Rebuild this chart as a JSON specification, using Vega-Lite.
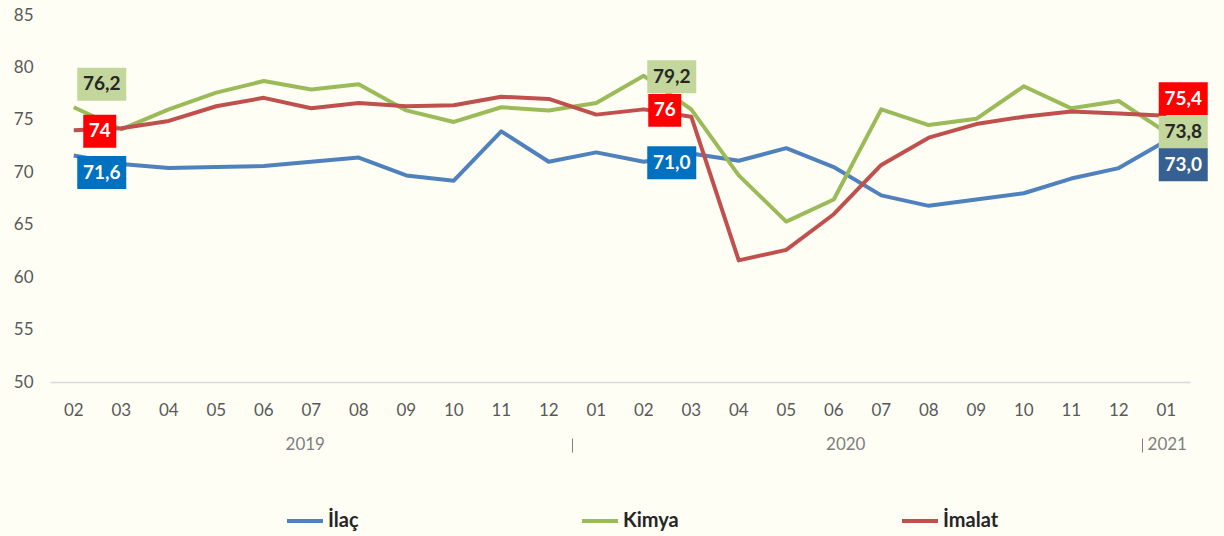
{
  "$schema": "https://vega.github.io/schema/vega-lite/v6.json",
  "autosize": "none",
  "width": 1140,
  "height": 367,
  "padding": {"left": 50, "top": 15, "right": 34, "bottom": 154},
  "background": "#FEFEF5",
  "config": {
    "font": "Lato",
    "view": {"stroke": null},
    "axis": {"grid": false, "labelFont": "Lato"},
    "legend": {"labelFont": "Lato"}
  },
  "resolve": {"axis": {"x": "independent"}},
  "datasets": {
    "seriler": [
      {"seri": "İlaç", "ay": "2019-02", "deger": 71.6},
      {"seri": "İlaç", "ay": "2019-03", "deger": 70.8},
      {"seri": "İlaç", "ay": "2019-04", "deger": 70.4},
      {"seri": "İlaç", "ay": "2019-05", "deger": 70.5},
      {"seri": "İlaç", "ay": "2019-06", "deger": 70.6},
      {"seri": "İlaç", "ay": "2019-07", "deger": 71.0},
      {"seri": "İlaç", "ay": "2019-08", "deger": 71.4},
      {"seri": "İlaç", "ay": "2019-09", "deger": 69.7},
      {"seri": "İlaç", "ay": "2019-10", "deger": 69.2},
      {"seri": "İlaç", "ay": "2019-11", "deger": 73.9},
      {"seri": "İlaç", "ay": "2019-12", "deger": 71.0},
      {"seri": "İlaç", "ay": "2020-01", "deger": 71.9},
      {"seri": "İlaç", "ay": "2020-02", "deger": 71.0},
      {"seri": "İlaç", "ay": "2020-03", "deger": 71.8},
      {"seri": "İlaç", "ay": "2020-04", "deger": 71.1},
      {"seri": "İlaç", "ay": "2020-05", "deger": 72.3},
      {"seri": "İlaç", "ay": "2020-06", "deger": 70.5},
      {"seri": "İlaç", "ay": "2020-07", "deger": 67.8},
      {"seri": "İlaç", "ay": "2020-08", "deger": 66.8},
      {"seri": "İlaç", "ay": "2020-09", "deger": 67.4},
      {"seri": "İlaç", "ay": "2020-10", "deger": 68.0},
      {"seri": "İlaç", "ay": "2020-11", "deger": 69.4},
      {"seri": "İlaç", "ay": "2020-12", "deger": 70.4},
      {"seri": "İlaç", "ay": "2021-01", "deger": 73.0},
      {"seri": "Kimya", "ay": "2019-02", "deger": 76.2},
      {"seri": "Kimya", "ay": "2019-03", "deger": 74.1},
      {"seri": "Kimya", "ay": "2019-04", "deger": 76.0},
      {"seri": "Kimya", "ay": "2019-05", "deger": 77.6},
      {"seri": "Kimya", "ay": "2019-06", "deger": 78.7},
      {"seri": "Kimya", "ay": "2019-07", "deger": 77.9},
      {"seri": "Kimya", "ay": "2019-08", "deger": 78.4},
      {"seri": "Kimya", "ay": "2019-09", "deger": 75.9},
      {"seri": "Kimya", "ay": "2019-10", "deger": 74.8},
      {"seri": "Kimya", "ay": "2019-11", "deger": 76.2},
      {"seri": "Kimya", "ay": "2019-12", "deger": 75.9},
      {"seri": "Kimya", "ay": "2020-01", "deger": 76.6},
      {"seri": "Kimya", "ay": "2020-02", "deger": 79.2},
      {"seri": "Kimya", "ay": "2020-03", "deger": 76.0},
      {"seri": "Kimya", "ay": "2020-04", "deger": 69.7},
      {"seri": "Kimya", "ay": "2020-05", "deger": 65.3},
      {"seri": "Kimya", "ay": "2020-06", "deger": 67.4},
      {"seri": "Kimya", "ay": "2020-07", "deger": 76.0},
      {"seri": "Kimya", "ay": "2020-08", "deger": 74.5},
      {"seri": "Kimya", "ay": "2020-09", "deger": 75.1},
      {"seri": "Kimya", "ay": "2020-10", "deger": 78.2},
      {"seri": "Kimya", "ay": "2020-11", "deger": 76.1},
      {"seri": "Kimya", "ay": "2020-12", "deger": 76.8},
      {"seri": "Kimya", "ay": "2021-01", "deger": 73.8},
      {"seri": "İmalat", "ay": "2019-02", "deger": 74.0},
      {"seri": "İmalat", "ay": "2019-03", "deger": 74.2},
      {"seri": "İmalat", "ay": "2019-04", "deger": 74.9},
      {"seri": "İmalat", "ay": "2019-05", "deger": 76.3},
      {"seri": "İmalat", "ay": "2019-06", "deger": 77.1},
      {"seri": "İmalat", "ay": "2019-07", "deger": 76.1},
      {"seri": "İmalat", "ay": "2019-08", "deger": 76.6},
      {"seri": "İmalat", "ay": "2019-09", "deger": 76.3},
      {"seri": "İmalat", "ay": "2019-10", "deger": 76.4},
      {"seri": "İmalat", "ay": "2019-11", "deger": 77.2},
      {"seri": "İmalat", "ay": "2019-12", "deger": 77.0},
      {"seri": "İmalat", "ay": "2020-01", "deger": 75.5},
      {"seri": "İmalat", "ay": "2020-02", "deger": 76.0},
      {"seri": "İmalat", "ay": "2020-03", "deger": 75.3},
      {"seri": "İmalat", "ay": "2020-04", "deger": 61.6},
      {"seri": "İmalat", "ay": "2020-05", "deger": 62.6},
      {"seri": "İmalat", "ay": "2020-06", "deger": 66.0},
      {"seri": "İmalat", "ay": "2020-07", "deger": 70.7},
      {"seri": "İmalat", "ay": "2020-08", "deger": 73.3},
      {"seri": "İmalat", "ay": "2020-09", "deger": 74.6},
      {"seri": "İmalat", "ay": "2020-10", "deger": 75.3},
      {"seri": "İmalat", "ay": "2020-11", "deger": 75.8},
      {"seri": "İmalat", "ay": "2020-12", "deger": 75.6},
      {"seri": "İmalat", "ay": "2021-01", "deger": 75.4}
    ],
    "etiketler": [
      {"seri": "Kimya", "ay": "2019-02", "deger": 76.2, "etiket": "76,2"},
      {"seri": "İmalat", "ay": "2019-02", "deger": 74.0, "etiket": "74"},
      {"seri": "İlaç", "ay": "2019-02", "deger": 71.6, "etiket": "71,6"},
      {"seri": "Kimya", "ay": "2020-02", "deger": 79.2, "etiket": "79,2"},
      {"seri": "İmalat", "ay": "2020-02", "deger": 76.0, "etiket": "76"},
      {"seri": "İlaç", "ay": "2020-02", "deger": 71.0, "etiket": "71,0"},
      {"seri": "İmalat", "ay": "2021-01", "deger": 75.4, "etiket": "75,4"},
      {"seri": "Kimya", "ay": "2021-01", "deger": 73.8, "etiket": "73,8"},
      {"seri": "İlaç", "ay": "2021-01", "deger": 73.0, "etiket": "73,0"}
    ]
  },
  "layer": [
    {
      "data": {"name": "seriler"},
      "mark": {"type": "line", "strokeWidth": 4, "strokeJoin": "round"},
      "encoding": {
        "x": {
          "field": "ay", "type": "ordinal", "title": null,
          "scale": {"type": "band", "paddingInner": 0, "paddingOuter": 0},
          "axis": {
            "orient": "bottom",
            "labelExpr": "slice(datum.value, 5)",
            "labelAngle": 0,
            "labelFontSize": 17,
            "labelColor": "#595959",
            "labelPadding": 20,
            "ticks": false,
            "domainColor": "#D9D9D9",
            "domainWidth": 1.5
          }
        },
        "y": {
          "field": "deger", "type": "quantitative", "title": null,
          "scale": {"domain": [50, 85], "nice": false, "zero": false},
          "axis": {
            "values": [50, 55, 60, 65, 70, 75, 80, 85],
            "domain": false,
            "ticks": false,
            "labelFontSize": 17,
            "labelColor": "#595959",
            "labelPadding": 17
          }
        },
        "color": {
          "field": "seri", "type": "nominal",
          "scale": {"domain": ["İlaç", "Kimya", "İmalat"], "range": ["#4F81BD", "#9BBB59", "#C0504D"]},
          "legend": {
            "title": null,
            "orient": "none",
            "direction": "horizontal",
            "legendX": 235,
            "legendY": 486,
            "columnPadding": 215,
            "symbolType": "stroke",
            "symbolSize": 1296,
            "symbolStrokeWidth": 4,
            "labelFontSize": 20,
            "labelFontWeight": "bold",
            "labelColor": "#262626",
            "labelOffset": 3
          }
        }
      }
    },
    {
      "data": {"name": "etiketler"},
      "mark": {
        "type": "point", "filled": true, "opacity": 1, "strokeWidth": 0, "size": 2401,
        "xOffset": {"expr": "datum.ay == '2021-01' ? 17 : (length(datum.etiket) > 2 ? 28 : (datum.ay == '2019-02' ? 26 : 21))"},
        "yOffset": {"expr": "datum.ay == '2019-02' ? (datum.seri == 'Kimya' ? -23 : (datum.seri == 'İlaç' ? 17 : 1)) : (datum.ay == '2021-01' ? (datum.seri == 'İmalat' ? -17 : (datum.seri == 'İlaç' ? 24 : 0)) : 1)"}
      },
      "encoding": {
        "x": {
          "field": "ay", "type": "ordinal", "title": null,
          "axis": {
            "orient": "bottom",
            "values": ["2019-07", "2020-06", "2021-01"],
            "labelExpr": "slice(datum.value, 0, 4)",
            "labelAngle": 0,
            "labelFontSize": 17,
            "labelColor": "#7F7F7F",
            "labelPadding": 54,
            "labelOffset": {"expr": "datum.value == '2020-06' ? 12 : (datum.value == '2019-07' ? -6 : 1)"},
            "ticks": false,
            "domain": false
          }
        },
        "y": {"field": "deger", "type": "quantitative", "title": null},
        "shape": {
          "condition": {"test": "length(datum.etiket) > 2", "value": "M-1,-0.673H1V0.673H-1Z"},
          "value": "M-0.673,-0.673H0.673V0.673H-0.673Z"
        },
        "fill": {
          "condition": [
            {"test": "datum.seri == 'Kimya'", "value": "#C3D69B"},
            {"test": "datum.seri == 'İmalat'", "value": "#FF0000"},
            {"test": "datum.ay == '2021-01'", "value": "#376092"}
          ],
          "value": "#0070C0"
        }
      }
    },
    {
      "data": {"name": "etiketler"},
      "mark": {
        "type": "text", "fontSize": 19, "fontWeight": "bold", "align": "center", "baseline": "middle",
        "xOffset": {"expr": "datum.ay == '2021-01' ? 17 : (length(datum.etiket) > 2 ? 28 : (datum.ay == '2019-02' ? 26 : 21))"},
        "yOffset": {"expr": "datum.ay == '2019-02' ? (datum.seri == 'Kimya' ? -23 : (datum.seri == 'İlaç' ? 17 : 1)) : (datum.ay == '2021-01' ? (datum.seri == 'İmalat' ? -17 : (datum.seri == 'İlaç' ? 24 : 0)) : 1)"}
      },
      "encoding": {
        "x": {
          "field": "ay", "type": "ordinal", "title": null,
          "axis": {
            "orient": "bottom",
            "values": ["2020-01", "2021-01"],
            "bandPosition": 0,
            "labels": false,
            "domain": false,
            "ticks": true,
            "tickSize": 14,
            "tickColor": "#7F7F7F",
            "tickWidth": 1,
            "offset": 56
          }
        },
        "y": {"field": "deger", "type": "quantitative", "title": null},
        "text": {"field": "etiket"},
        "color": {
          "condition": {"test": "datum.seri == 'Kimya'", "value": "#262626"},
          "value": "#FFFFFF"
        }
      }
    }
  ]
}
